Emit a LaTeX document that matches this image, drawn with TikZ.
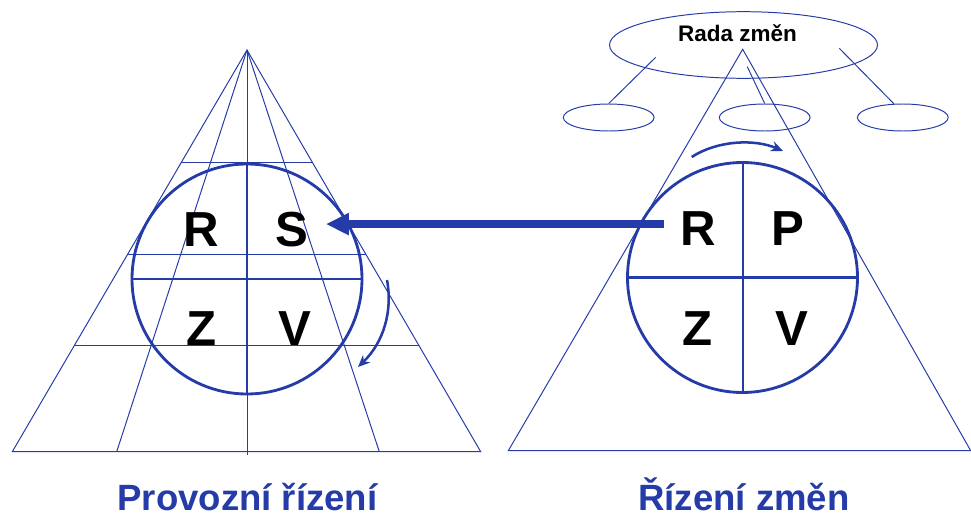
\documentclass[tikz,border=0pt]{standalone}
\usepackage{fontspec}
\setmainfont{Liberation Sans}
\usepackage{xcolor}
\usetikzlibrary{arrows.meta,calc,shapes.geometric}
\definecolor{pblue}{RGB}{36,59,168}

\begin{document}
\begin{tikzpicture}[x=0.25mm,y=-0.25mm,
  grid/.style={pblue,line width=0.7pt},
  ring/.style={pblue,line width=2pt},
  ltr/.style={font=\fontsize{35}{40}\selectfont\bfseries,inner sep=0pt,anchor=base},
  ttl/.style={font=\fontsize{26}{30}\selectfont\bfseries,text=pblue,inner sep=0pt,anchor=base},
  oval/.style={ellipse,draw=pblue,line width=0.7pt,inner sep=0pt},
  bigarr/.style={pblue,line width=5.7pt,-{Triangle[length=5.75mm,width=5.25mm]}},
  turn/.style={pblue,line width=1.8pt,-{Stealth[length=3mm,width=2.6mm]}}]
 \useasboundingbox (0,0) rectangle (971,517);
 % left pyramid
 \coordinate (A) at (247,50);
 \coordinate (BL) at (12.3,451.7);
 \coordinate (BR) at (480.7,451.7);
 \draw[grid] (A) -- (BL) -- (BR) -- cycle;
 \foreach \x in {116.7,379.3}
   \draw[grid] (A) -- (\x,451.7);
 \draw[grid] (A) -- (247,455);
 \foreach \t in {0.2796,0.5086,0.7344}
   \draw[grid] ($(A)!\t!(BL)$) -- ($(A)!\t!(BR)$);
 \coordinate (lc) at (247,279);
 \draw[ring] (lc) circle[radius=115];
 \draw[ring] ($(lc)+(-115,0)$) -- ($(lc)+(115,0)$);
 \draw[ring] ($(lc)+(0,-115)$) -- ($(lc)+(0,115)$);
 \node[ltr] (lR) at (201.7,246) {R};
 \node[ltr] (lS) at (292.3,246) {S};
 \node[ltr] (lZ) at (201.7,345) {Z};
 \node[ltr] (lV) at (295,345) {V};
 \coordinate (lt1) at (387,280);
 \coordinate (lt2) at (358,367);
 \draw[turn] (lt1) .. controls (393,312) and (383,343) .. (lt2);
 % right pyramid
 \coordinate (A2) at (742.7,49.3);
 \coordinate (BL2) at (508.3,450.7);
 \coordinate (BR2) at (970.7,450.7);
 \draw[grid] (A2) -- (BL2) -- (BR2) -- cycle;
 \coordinate (rc) at (742.5,277.5);
 \draw[ring] (rc) circle[radius=115];
 \draw[ring] ($(rc)+(-115,0)$) -- ($(rc)+(115,0)$);
 \draw[ring] ($(rc)+(0.5,-115)$) -- ($(rc)+(0.5,115)$);
 \node[ltr] (rR) at (698.3,245) {R};
 \node[ltr] (rP) at (788.3,245) {P};
 \node[ltr] (rZ) at (697.7,345) {Z};
 \node[ltr] (rV) at (791.7,345) {V};
 \coordinate (rt1) at (691.7,157);
 \coordinate (rt2) at (783,151);
 \draw[turn] (rt1) .. controls (718,140) and (755,139) .. (rt2);
 \node[oval,minimum width=67mm,minimum height=16.65mm] (rada) at (743.5,45) {};
 \node[font=\fontsize{16}{19}\selectfont\bfseries,inner sep=0pt,anchor=base] (radat) at (737.5,41.7) {Rada změn};
 \node[oval,minimum width=22.7mm,minimum height=6.75mm] (e1) at (608.7,117.5) {};
 \node[oval,minimum width=22.7mm,minimum height=6.75mm] (e2) at (764.7,117.5) {};
 \node[oval,minimum width=22.7mm,minimum height=6.75mm] (e3) at (902.8,117.5) {};
 \coordinate (c1) at (655.7,57.3);
 \coordinate (c2) at (747.3,66.7);
 \coordinate (c3) at (839.3,48.3);
 \draw[grid] (c1) -- (e1.north);
 \draw[grid] (c2) -- (e2.north);
 \draw[grid] (c3) -- (e3.123);
 % arrow between the two
 \path ([shift={(-16,-4)}]rR.west) coordinate (as);
 \draw[bigarr] (as) -- ([xshift=4.25mm]as -| lS.east);
 % titles
 \node[ttl] (prov) at (247.5,510.5) {Provozní řízení};
 \node[ttl] (zmen) at (744,510.5) {Řízení změn};
\end{tikzpicture}
\end{document}
